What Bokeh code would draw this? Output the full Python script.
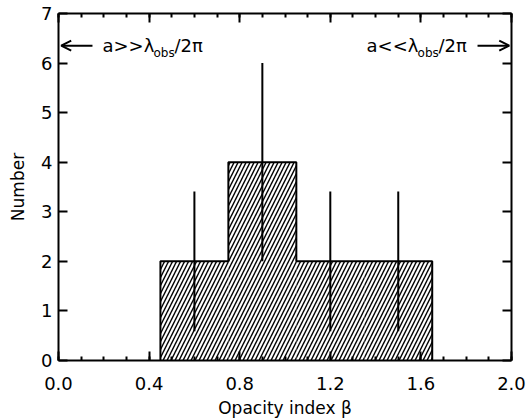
from bokeh.plotting import figure
from bokeh.models import (Range1d, LinearAxis, SingleIntervalTicker, PrintfTickFormatter,
                          Label, Arrow, OpenHead, ColumnDataSource)
from bokeh.embed import file_html
from bokeh.resources import INLINE

# ---- data ----
bin_edges = [0.45, 0.75, 1.05, 1.35, 1.65]
counts = [2, 4, 2, 2]
count_errors = [1.41, 2.0, 1.41, 1.41]
x_ticks_interval = 0.4
y_ticks_interval = 1

FONT = "DejaVu Sans"

p = figure(width=528, height=420, output_backend="svg", toolbar_location=None,
           x_range=Range1d(0, 2), y_range=Range1d(0, 7),
           min_border_left=58, min_border_right=17, min_border_top=13, min_border_bottom=59,
           x_axis_label="Opacity index \u03b2", y_axis_label="Number")
p.grid.visible = False
p.outline_line_color = None
p.background_fill_color = "white"
p.border_fill_color = "white"

lefts = bin_edges[:-1]
rights = bin_edges[1:]
centers = [(a + b) / 2 for a, b in zip(lefts, rights)]
lows = [c - e for c, e in zip(counts, count_errors)]
highs = [c + e for c, e in zip(counts, count_errors)]

src = ColumnDataSource(dict(left=lefts, right=rights, top=counts, bottom=[0] * len(counts)))
p.quad(left="left", right="right", top="top", bottom="bottom", source=src,
       fill_color=None, line_color=None,
       hatch_pattern="/", hatch_color="black", hatch_scale=8, hatch_weight=1.4)

# step outline
sx, sy = [bin_edges[0]], [0]
for l, r, c in zip(lefts, rights, counts):
    sx += [l, r]
    sy += [c, c]
sx.append(bin_edges[-1]); sy.append(0)
p.line(sx, sy, line_color="black", line_width=2)

# error bars
p.segment(x0=centers, y0=lows, x1=centers, y1=highs, line_color="black", line_width=2)

# axes styling
def style_axis(ax, labels=True):
    ax.axis_line_width = 2
    ax.axis_line_color = "black"
    ax.major_tick_in = 9
    ax.major_tick_out = 0
    ax.major_tick_line_width = 2
    ax.major_tick_line_color = "black"
    ax.minor_tick_in = 4
    ax.minor_tick_out = 0
    ax.minor_tick_line_width = 2
    ax.minor_tick_line_color = "black"
    ax.major_label_text_font = FONT
    ax.major_label_text_color = "black" if labels else None
    ax.major_label_text_font_size = "18px" if labels else "0px"
    ax.axis_label_text_font = FONT
    ax.axis_label_text_font_style = "normal"
    ax.axis_label_text_color = "black"
    ax.axis_label_text_font_size = "17px"
    if not labels:
        ax.major_label_standoff = 0

xb = p.xaxis[0]
xb.ticker = SingleIntervalTicker(interval=x_ticks_interval, num_minor_ticks=4)
xb.formatter = PrintfTickFormatter(format="%.1f")
style_axis(xb)
xb.major_label_standoff = 16
xb.axis_label_standoff = 5

yl = p.yaxis[0]
yl.ticker = SingleIntervalTicker(interval=y_ticks_interval, num_minor_ticks=0)
style_axis(yl)
yl.minor_tick_line_color = None
yl.major_label_standoff = 6
yl.axis_label_standoff = 10

xt = LinearAxis(ticker=SingleIntervalTicker(interval=x_ticks_interval, num_minor_ticks=4))
style_axis(xt, labels=False)
p.add_layout(xt, "above")

yr = LinearAxis(ticker=SingleIntervalTicker(interval=y_ticks_interval, num_minor_ticks=0))
style_axis(yr, labels=False)
yr.minor_tick_line_color = None
p.add_layout(yr, "right")

# annotations
ay = 6.35
p.add_layout(Arrow(end=OpenHead(size=10, line_width=2, line_color="black"),
                   x_start=0.15, y_start=ay, x_end=0.012, y_end=ay,
                   line_width=2, line_color="black"))
p.add_layout(Arrow(end=OpenHead(size=10, line_width=2, line_color="black"),
                   x_start=1.85, y_start=ay, x_end=1.99, y_end=ay,
                   line_width=2, line_color="black"))

def lab(x, text, xoff, yoff, size):
    p.add_layout(Label(x=x, y=ay, text=text, x_offset=xoff, y_offset=yoff,
                       text_font=FONT, text_font_size=size, text_color="black",
                       text_baseline="middle", text_align="left"))

lab(0.194, "a>>\u03bb", 0, 0, "18px")
lab(0.194, "obs", 51, -7, "12px")
lab(0.194, "/2\u03c0", 72, 0, "18px")

lab(1.36, "a<<\u03bb", 0, 0, "18px")
lab(1.36, "obs", 51, -7, "12px")
lab(1.36, "/2\u03c0", 72, 0, "18px")

open("out.html", "w").write(file_html(p, INLINE))
